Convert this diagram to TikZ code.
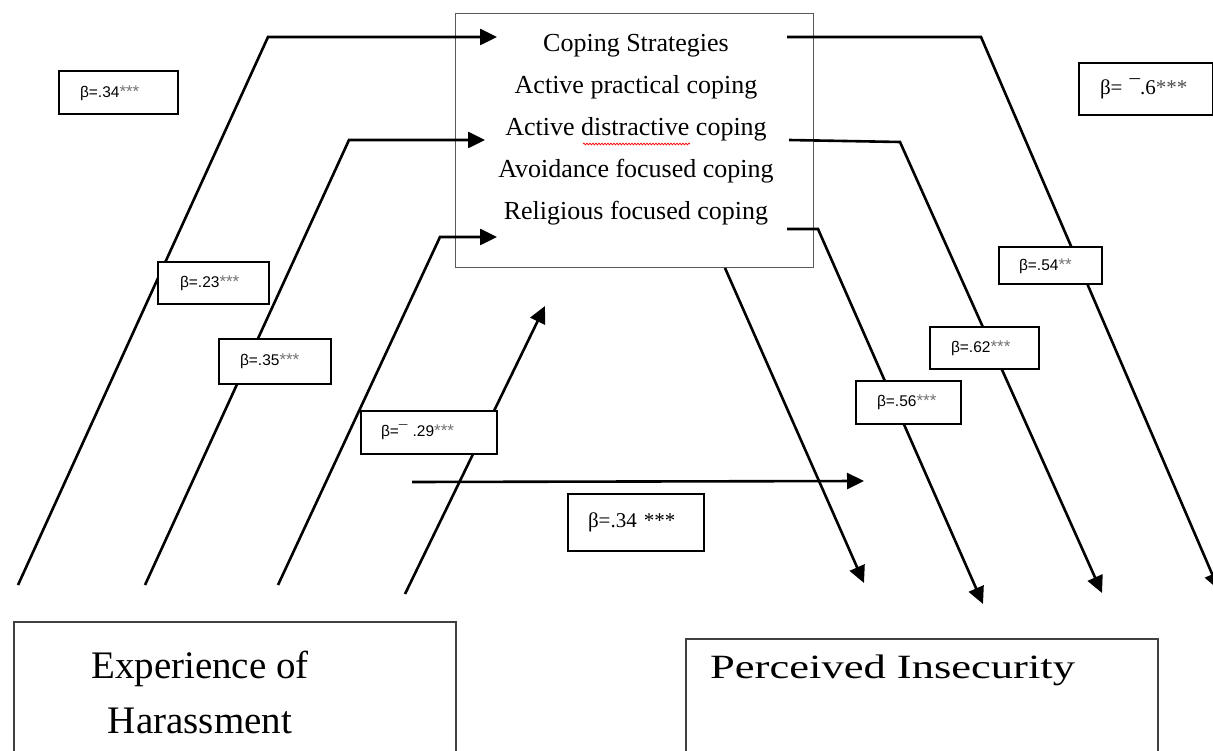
\documentclass[tikz,border=0pt]{standalone}
\usepackage{fontspec}
\usepackage{graphicx}
\setmainfont{Liberation Serif}
\newfontfamily\arialf{Liberation Sans}
\usetikzlibrary{arrows.meta,decorations.pathmorphing}
\definecolor{stargray}{RGB}{115,115,115}
\newcommand{\stars}[1]{\textcolor{stargray}{\fontsize{17}{17}\selectfont #1}}
\begin{document}
\begin{tikzpicture}[x=1pt,y=-1pt,
  seg/.style={line width=2.6pt, line join=miter},
  conn/.style={line width=2.6pt, line join=miter, -{Triangle[length=17pt,width=16pt]}},
  lab/.style={draw, line width=2pt, fill=white, align=left, inner ysep=0pt,
    font=\arialf\fontsize{15.5}{17}\selectfont},
  slab/.style={draw, line width=2pt, fill=white, align=left, inner ysep=0pt,
    font=\fontsize{21}{24}\selectfont},
  bigbox/.style={draw=black!75, line width=1.6pt, inner sep=0pt, anchor=north west}
]
\useasboundingbox (0,0) rectangle (1213,751);

% main boxes
\node[draw=black!65, line width=1.3pt, minimum width=358pt, minimum height=254pt, inner sep=0pt, anchor=north west] (coping) at (455,13) {};
\node[font=\fontsize{26}{42}\selectfont, align=center] (copt) at (636,130)
  {Coping Strategies\\Active practical coping\\Active distractive coping\\Avoidance focused coping\\Religious focused coping};
\draw[red, line width=0.7pt, decorate, decoration={snake, amplitude=0.9pt, segment length=3pt}] (583,144) -- (690,144);

\node[bigbox, minimum width=442pt, minimum height=160pt] (exp) at (13,621) {};
\node[font=\fontsize{39}{55}\selectfont, align=center] (expt) at (200,692) {Experience of\\Harassment};

\node[bigbox, minimum width=472pt, minimum height=160pt] (per) at (685,638) {};
\node[font=\fontsize{34}{40}\selectfont, anchor=west, inner sep=0pt] (pert) at (710,670) {\scalebox{1.31}[1]{Perceived Insecurity}};

% coordinates
\coordinate (L1s) at (18,585);  \coordinate (L1b) at (268,37);  \coordinate (L1e) at (497,37);
\coordinate (L2s) at (145,585); \coordinate (L2b) at (349,140); \coordinate (L2e) at (485,140);
\coordinate (L3s) at (278,585); \coordinate (L3b) at (440,237); \coordinate (L3e) at (497,237);
\coordinate (L4s) at (405,594); \coordinate (L4e) at (545,306);
\coordinate (R1s) at (787,37);  \coordinate (R1b) at (981,37);  \coordinate (R1e) at (1219,590);
\coordinate (R2s) at (789,140); \coordinate (R2b) at (900,142); \coordinate (R2e) at (1102,593);
\coordinate (R3s) at (787,229); \coordinate (R3b) at (818,229); \coordinate (R3e) at (983,604);
\coordinate (R4s) at (725,268); \coordinate (R4e) at (864,583);
\coordinate (Ds) at (412,482);  \coordinate (De) at (864,481);

% connectors
\draw[conn] (L1s) -- (L1b) -- (L1e);
\draw[conn] (L2s) -- (L2b) -- (L2e);
\draw[conn] (L3s) -- (L3b) -- (L3e);
\draw[conn] (L4s) -- (L4e);
\draw[conn] (R1s) -- (R1b) -- (R1e);
\draw[conn] (R2s) -- (R2b) -- (R2e);
\draw[conn] (R3s) -- (R3b) -- (R3e);
\draw[conn] (R4s) -- (R4e);
\draw[conn] (Ds) -- (De);

% labels
\node[lab, minimum height=43pt, text width=77pt, inner xsep=21pt] (l34) at (118.5,93) {β=.34\stars{***}};
\node[lab, minimum height=42pt, text width=67pt, inner xsep=22pt] (l23) at (213.5,283.5) {β=.23\stars{***}};
\node[lab, minimum height=44pt, text width=70pt, inner xsep=21pt] (l35) at (275,361.5) {β=.35\stars{***}};
\node[lab, minimum height=43pt, text width=96pt, inner xsep=20pt] (l29) at (429,432) {β=¯ .29\stars{***}};
\node[slab, minimum height=57pt, text width=96pt, inner xsep=20pt] (l34b) at (636,522.5) {β=.34 ***};
\node[slab, minimum height=52pt, text width=92pt, inner xsep=21pt] (l6) at (1146,89) {β= ¯.6\textcolor{black!70}{***}};
\node[lab, minimum height=37pt, text width=63pt, inner xsep=20pt] (l54) at (1050.5,266) {β=.54\stars{**}};
\node[lab, minimum height=41pt, text width=67pt, inner xsep=21pt] (l62) at (984.5,348) {β=.62\stars{***}};
\node[lab, minimum height=43pt, text width=63pt, inner xsep=21pt] (l56) at (908.5,402) {β=.56\stars{***}};
\end{tikzpicture}
\end{document}
